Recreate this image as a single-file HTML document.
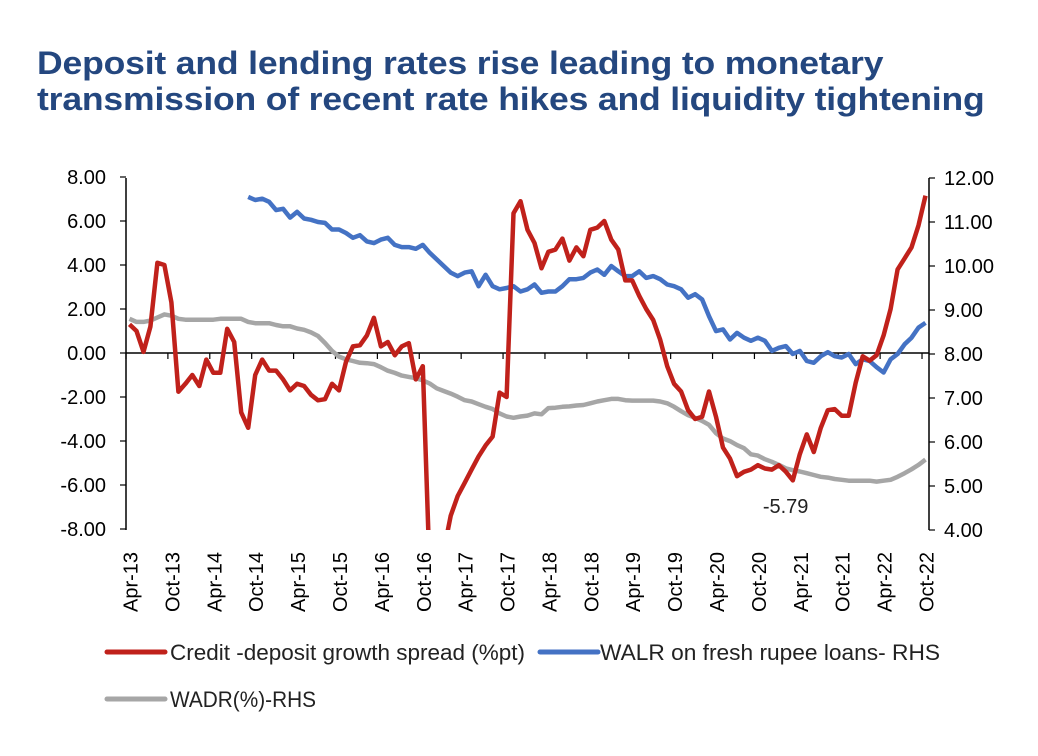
<!DOCTYPE html>
<html><head><meta charset="utf-8"><style>
body{margin:0;background:#fff;width:1038px;height:756px;overflow:hidden;font-family:"Liberation Sans",sans-serif}
.t{position:absolute;left:37px;top:45px;color:#24477f;font-weight:bold;font-size:32px;line-height:36px;letter-spacing:-0.15px;white-space:nowrap;transform:scaleX(1.11);transform-origin:0 0}
</style></head><body>
<div class="t">Deposit and lending rates rise leading to monetary<br>transmission of recent rate hikes and liquidity tightening</div>
<svg id="c" width="1038" height="756" style="position:absolute;left:0;top:0"></svg>
<script>
const startYear=13;
const spread=[1.3,1.0,0.05,1.2,4.1,4.0,2.3,-1.76,-1.4,-1.0,-1.5,-0.3,-0.9,-0.9,1.1,0.5,-2.7,-3.4,-1.0,-0.3,-0.8,-0.8,-1.2,-1.7,-1.4,-1.5,-1.9,-2.15,-2.1,-1.4,-1.7,-0.4,0.3,0.35,0.8,1.6,0.3,0.5,-0.1,0.3,0.45,-1.2,-0.6,-10,-10,-9,-7.4,-6.5,-5.9,-5.3,-4.7,-4.2,-3.8,-1.8,-2.0,6.35,6.9,5.6,5.0,3.85,4.6,4.7,5.2,4.2,4.8,4.4,5.6,5.7,6.0,5.15,4.7,3.3,3.3,2.6,2.0,1.5,0.6,-0.6,-1.4,-1.75,-2.6,-3.0,-2.9,-1.75,-2.9,-4.3,-4.8,-5.6,-5.4,-5.3,-5.1,-5.25,-5.3,-5.1,-5.4,-5.79,-4.6,-3.7,-4.5,-3.4,-2.6,-2.55,-2.85,-2.85,-1.35,-0.15,-0.35,-0.1,0.8,2.0,3.8,4.3,4.8,5.8,7.15];
const walrStart=17;
const walr=[11.57,11.5,11.53,11.46,11.27,11.3,11.1,11.23,11.08,11.05,11.0,10.98,10.83,10.83,10.75,10.64,10.7,10.56,10.52,10.6,10.64,10.48,10.43,10.43,10.39,10.48,10.3,10.15,10.0,9.85,9.77,9.85,9.88,9.54,9.8,9.54,9.47,9.5,9.54,9.42,9.47,9.58,9.39,9.42,9.42,9.54,9.7,9.7,9.73,9.85,9.92,9.8,10.0,9.88,9.77,9.77,9.88,9.73,9.77,9.7,9.58,9.54,9.47,9.28,9.36,9.24,8.86,8.52,8.56,8.33,8.48,8.37,8.3,8.37,8.3,8.07,8.14,8.18,8.0,8.07,7.84,7.8,7.95,8.04,7.95,7.92,8.0,7.77,7.88,7.84,7.7,7.58,7.88,8.0,8.22,8.37,8.6,8.71];
const wadr=[8.8,8.73,8.73,8.76,8.83,8.9,8.87,8.8,8.78,8.78,8.78,8.78,8.78,8.8,8.8,8.8,8.8,8.73,8.7,8.7,8.7,8.66,8.63,8.63,8.58,8.55,8.49,8.41,8.25,8.07,7.94,7.88,7.84,7.8,7.79,7.77,7.7,7.62,7.57,7.51,7.48,7.45,7.4,7.33,7.22,7.16,7.1,7.03,6.95,6.92,6.86,6.8,6.75,6.65,6.58,6.55,6.58,6.6,6.65,6.63,6.77,6.78,6.8,6.81,6.83,6.84,6.88,6.92,6.95,6.98,6.98,6.95,6.94,6.94,6.94,6.94,6.92,6.88,6.8,6.7,6.61,6.55,6.48,6.39,6.2,6.08,6.02,5.93,5.86,5.72,5.69,5.61,5.55,5.48,5.4,5.36,5.33,5.29,5.25,5.21,5.19,5.16,5.14,5.12,5.12,5.12,5.12,5.1,5.12,5.14,5.21,5.29,5.38,5.48,5.6];
const leftTicks=[8,6,4,2,0,-2,-4,-6,-8];
const rightTicks=[12,11,10,9,8,7,6,5,4];
const NS='http://www.w3.org/2000/svg';
const svg=document.getElementById('c');
const L=126,R=929,T=178,B=530,N=115;
const xs=i=>L+(i+0.5)*(R-L)/N;
const yl=v=>353-(v)*(B-T)/16;
const yr=v=>T+(12-v)*(B-T)/8;
function mk(tag,a){const e=document.createElementNS(NS,tag);for(const k in a)e.setAttribute(k,a[k]);svg.appendChild(e);return e;}
const defs=mk('defs',{});defs.innerHTML='<clipPath id="cp"><rect x="'+L+'" y="'+(T-10)+'" width="'+(R-L)+'" height="'+(B-T+10)+'"/></clipPath>';
let e=mk('line',{x1:L,y1:T,x2:L,y2:B,stroke:'#000','stroke-width':1.5});

e=mk('line',{x1:R,y1:T,x2:R,y2:B,stroke:'#000','stroke-width':1.5});

e=mk('line',{x1:L,y1:yl(0),x2:R,y2:yl(0),stroke:'#000','stroke-width':1.5});

leftTicks.forEach(v=>{
 mk('line',{x1:L-6,y1:yl(v),x2:L,y2:yl(v),stroke:'#000','stroke-width':1.2});
 const t=mk('text',{x:106,y:yl(v)+7,'text-anchor':'end','font-size':20,fill:'#000'});t.textContent=v.toFixed(2);
 
});
rightTicks.forEach(v=>{
 mk('line',{x1:R,y1:yr(v),x2:R+6,y2:yr(v),stroke:'#000','stroke-width':1.2});
 const t=mk('text',{x:944,y:yr(v)+7,'font-size':20,fill:'#000'});t.textContent=v.toFixed(2);
 
});
const mon=['Apr','Oct'];
for(let i=0;i<N;i+=6){
 const k=i/6;
 mk('line',{x1:L+(i)*(R-L)/N,y1:yl(0),x2:L+(i)*(R-L)/N,y2:yl(0)+6,stroke:'#000','stroke-width':1.2});
 const yr2=startYear+Math.floor(k/2);
 const t=mk('text',{transform:'translate('+(xs(i)+8)+',612) rotate(-90)','font-size':20,fill:'#000'});
 t.textContent=mon[k%2]+'-'+yr2;
 
}
function line(arr,off,yf,col,name){
 const d=arr.map((v,j)=>(j?'L':'M')+xs(j+off).toFixed(1)+','+yf(v).toFixed(1)).join('');
 const p=mk('path',{d:d,fill:'none',stroke:col,'stroke-width':4.5,'stroke-linejoin':'round','clip-path':'url(#cp)'});
 
}
line(wadr,0,yr,'#a6a6a6','wadr-line');
line(walr,walrStart,yr,'#4472c4','walr-line');
line(spread,0,yl,'#c0211b','spread-line');
const mi=spread.indexOf(Math.min(...spread.slice(60)));
e=mk('text',{x:xs(mi)-30,y:513,'font-size':20,fill:'#222'});e.textContent=spread[mi].toFixed(2);

[[652,'#c0211b','Credit -deposit growth spread (%pt)',107,170,355,'legend-spread'],[652,'#4472c4','WALR on fresh rupee loans- RHS',540,600,340,'legend-walr'],[699,'#a6a6a6','WADR(%)-RHS',107,170,146,'legend-wadr']].forEach(a=>{
 const g=mk('g',{});
 const l=document.createElementNS(NS,'line');[['x1',a[3]],['x2',a[3]+58],['y1',a[0]],['y2',a[0]],['stroke',a[1]],['stroke-width',5],['stroke-linecap','round']].forEach(p=>l.setAttribute(p[0],p[1]));g.appendChild(l);
 const t=document.createElementNS(NS,'text');t.setAttribute('x',a[4]);t.setAttribute('y',a[0]+8);t.setAttribute('font-size',22);t.setAttribute('textLength',a[5]);t.setAttribute('lengthAdjust','spacingAndGlyphs');t.setAttribute('fill','#222');t.textContent=a[2];g.appendChild(t);
});
</script>
</body></html>
